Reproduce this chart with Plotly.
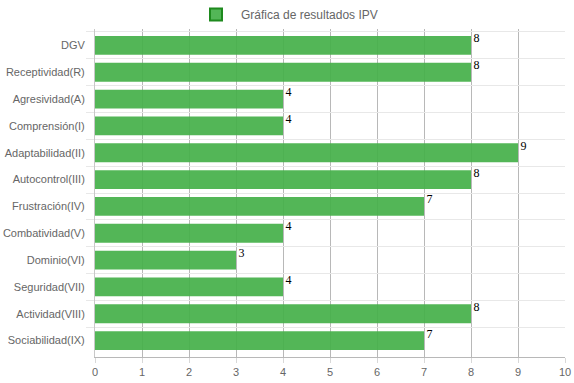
import plotly.graph_objects as go

categories = ["DGV", "Receptividad(R)", "Agresividad(A)", "Comprensión(I)",
              "Adaptabilidad(II)", "Autocontrol(III)", "Frustración(IV)",
              "Combatividad(V)", "Dominio(VI)", "Seguridad(VII)",
              "Actividad(VIII)", "Sociabilidad(IX)"]
values = [8, 8, 4, 4, 9, 8, 7, 4, 3, 4, 8, 7]
series_name = "Gráfica de resultados IPV"
x_ticks = list(range(0, 11))

fill = "rgba(70,176,74,0.93)"
border = "#1e8a1e"

fig = go.Figure()
fig.add_trace(go.Bar(
    x=values, y=categories, orientation="h",
    marker=dict(color=fill, line=dict(width=0)),
    width=0.7, showlegend=False, hoverinfo="x+y",
))
# value labels
fig.add_trace(go.Scatter(
    x=values, y=categories, mode="text",
    text=["\u2009" + str(v) for v in values], textposition="top right",
    textfont=dict(family="Liberation Serif, Times New Roman, serif", size=12, color="#000"),
    showlegend=False, hoverinfo="skip", cliponaxis=False,
))
# legend entry
fig.add_trace(go.Bar(
    x=[None], y=[None], orientation="h", name=series_name,
    marker=dict(color=fill, line=dict(color=border, width=2)),
    showlegend=True,
))

fig.update_layout(
    width=574, height=383,
    margin=dict(l=95, r=9, t=29, b=26, autoexpand=False),
    paper_bgcolor="white", plot_bgcolor="white",
    font=dict(family="Liberation Sans, Arial, sans-serif", size=12, color="#666"),
    showlegend=True,
    legend=dict(orientation="h", xref="container", yref="container",
                x=0.5, xanchor="center", y=1.0, yanchor="top",
                font=dict(size=12, color="#666"), itemwidth=40),
    bargap=0.28,
)
fig.update_xaxes(
    range=[0, 10], tickvals=x_ticks, ticktext=[str(t) for t in x_ticks],
    showgrid=True, gridcolor="#b8b8b8", gridwidth=1,
    zeroline=False, showline=True, linecolor="#b8b8b8",
    ticks="outside", ticklen=5, tickcolor="#d8d8d8",
    tickfont=dict(size=11, color="#666"), fixedrange=True, automargin=False,
)
fig.update_yaxes(
    type="category", categoryorder="array", categoryarray=categories,
    autorange="reversed", tickson="boundaries",
    showgrid=True, gridcolor="#e8e8e8", gridwidth=1,
    showline=True, linecolor="#c8c8c8",
    ticks="outside", ticklen=8, tickcolor="#e8e8e8",
    tickfont=dict(size=11, color="#666"), ticklabelstandoff=7, automargin=False,
    fixedrange=True,
)

fig.write_html("out.html", config={"displayModeBar": False},
               post_script="document.body.style.margin='0';document.body.style.overflow='hidden';")
